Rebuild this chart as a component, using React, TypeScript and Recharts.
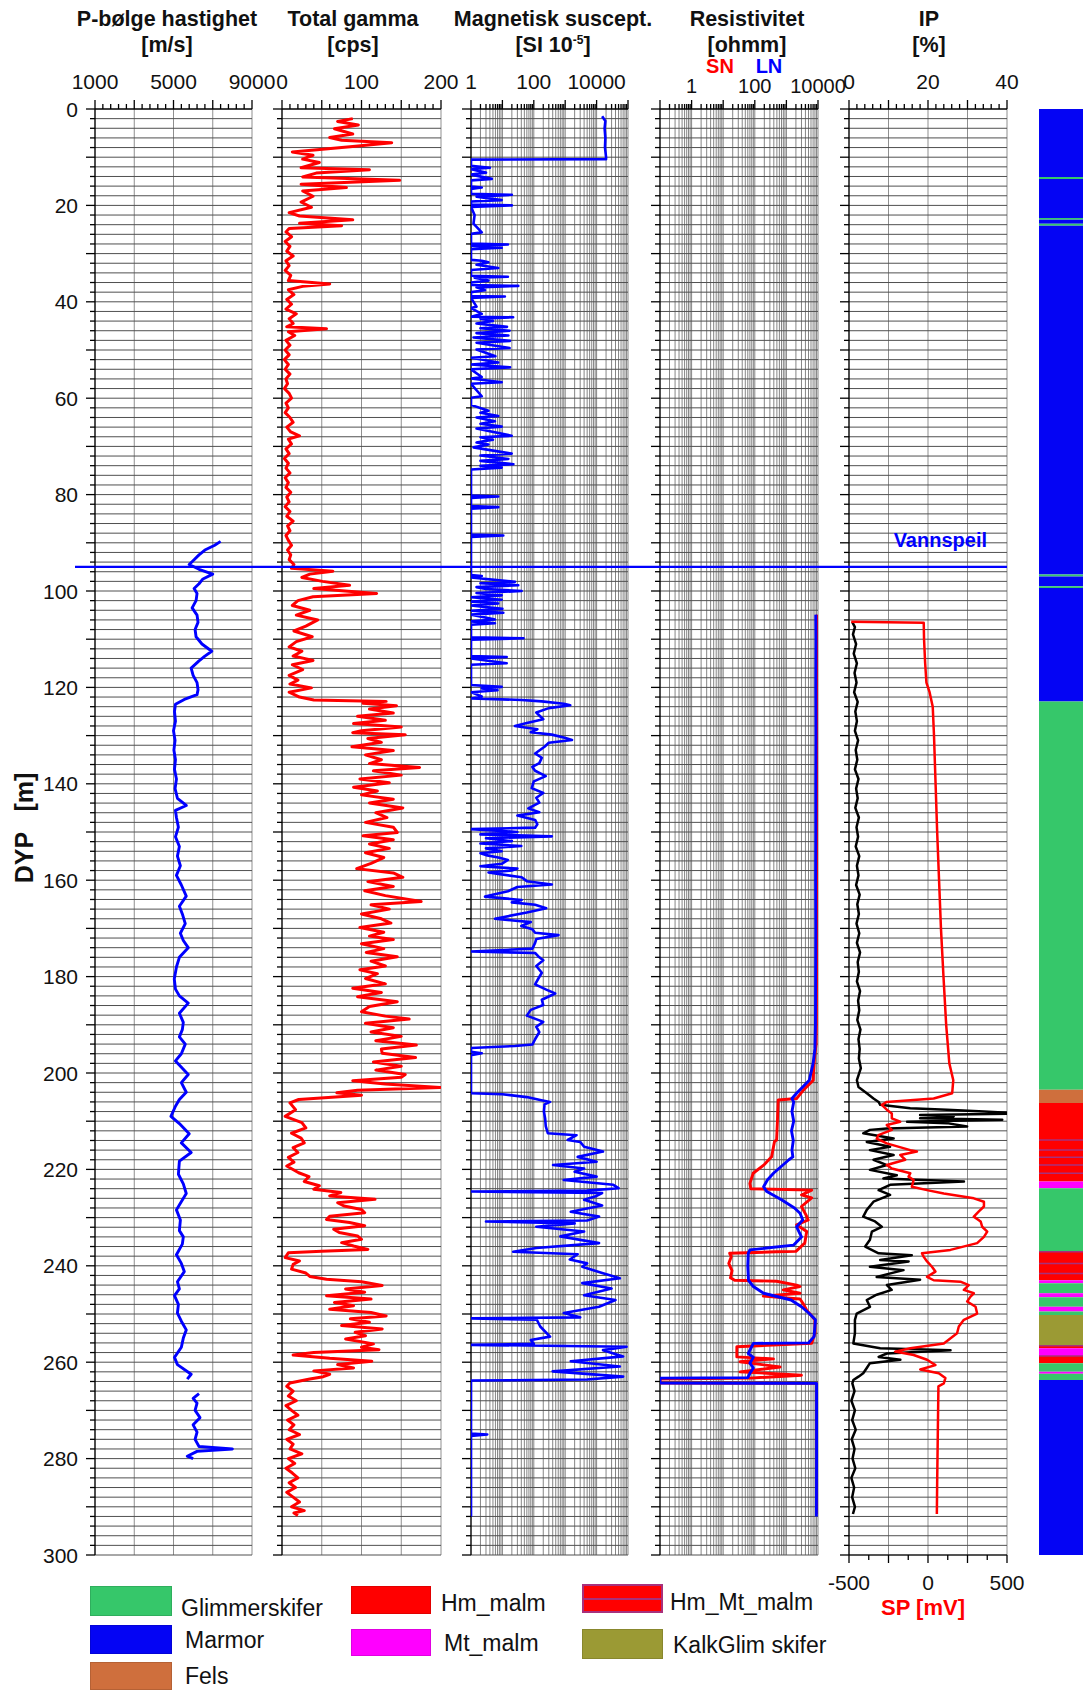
import React from 'react';
import {
  ScatterChart,
  Scatter,
  XAxis,
  YAxis,
  CartesianGrid,
  ReferenceLine,
  ReferenceArea,
} from 'recharts';

const FONT = '"Liberation Sans", Arial, Helvetica, sans-serif';
const PAGE_W = 1083;
const PAGE_H = 1690;
const PLOT_TOP = 109;
const PLOT_BOTTOM = 1555;
const AXIS_W = 62;
const RIGHT_PAD = 40;

// ---- curves: [depth m, value] ----
const pWaveUpper = [
  [89.7, 7400], [90.5, 7100], [91.5, 6600], [92.5, 6300], [93.5, 6050], [94.5, 5800],
  [95.5, 6300], [96.5, 7000], [97.5, 6500], [98.5, 6300], [99.5, 6050], [100.5, 6200],
  [102, 6150], [103.5, 5950], [105, 6200], [106.5, 6250], [108, 6100], [109.5, 6150],
  [111, 6450], [112.5, 6950], [113.5, 6600], [114.5, 6300], [116, 5900], [117.5, 6000],
  [119, 6200], [120.5, 6250], [121.5, 6200], [122.5, 5550], [123.5, 5100], [125, 5050],
  [127, 5100], [129, 5000], [131, 5080], [133, 5020], [135, 5100], [137, 5050],
  [139, 5150], [141, 5080], [143, 5200], [144.5, 5650], [145.5, 5100], [147, 5150],
  [149, 5250], [151, 5100], [153, 5300], [155, 5200], [157, 5350], [159, 5150],
  [161, 5400], [163.3, 5650], [165.4, 5300], [167, 5450], [169, 5600], [171, 5350],
  [172.5, 5500], [174, 5750], [176, 5300], [178, 5150], [180.5, 5040], [182.6, 5100],
  [184, 5300], [185.5, 5750], [187.6, 5300], [189.5, 5500], [191, 5450], [192.5, 5300],
  [194, 5600], [196, 5400], [197.5, 5100], [199, 5450], [200.3, 5750], [202, 5400],
  [204, 5650], [205.5, 5300], [206.9, 5100], [209, 4870], [210.5, 5300], [212.6, 5800],
  [214.5, 5400], [216.5, 5900], [218.3, 5300], [221, 5250], [223, 5500], [225, 5650],
  [227, 5350], [228.4, 5150], [230.5, 5350], [232.7, 5300], [234, 5500], [235.5, 5450],
  [237.7, 5150], [239.5, 5400], [241.2, 5550], [243.3, 5200], [244.8, 5300], [246.2, 5050],
  [248, 5250], [249.8, 5200], [251.5, 5400], [253.3, 5650], [255, 5500], [256.9, 5400],
  [259, 5050], [260.5, 5200], [262.5, 5900], [263.5, 5700],
];
const pWaveLower = [
  [266.5, 6300], [267.5, 6000], [268.5, 6200], [270, 6100], [271.5, 6350], [273, 6000],
  [274.5, 6200], [276, 6100], [277.5, 6300], [278, 8000], [278.5, 6200], [279.5, 5700], [280, 6000],
];

const gamma = [
  [2.0, 89], [2.6, 70], [3.3, 96], [4.1, 66], [5.2, 89], [5.9, 60], [6.5, 75], [7.0, 138],
  [7.8, 89], [8.9, 13], [9.6, 39], [10.4, 26], [11.1, 47], [12.2, 24], [12.6, 110], [13.3, 43],
  [14.1, 26], [14.8, 148], [15.6, 24], [16.3, 81], [17.0, 26], [18.1, 39], [19.3, 24], [20.4, 37],
  [21.5, 9], [22.2, 22], [23.0, 89], [23.7, 22], [24.2, 75], [24.8, 9],
  [25.5, 5], [26.5, 12], [27.5, 4], [28.5, 10], [29.5, 6], [30.5, 14], [31.5, 5], [32.5, 9],
  [33.5, 4], [34.5, 11], [35.6, 8], [36.3, 60], [36.8, 26], [37.5, 8], [38.5, 15], [39.5, 6],
  [40.5, 12], [41.5, 5], [42.5, 18], [43.5, 9], [44.5, 14], [45.2, 6], [45.6, 56], [46.2, 8],
  [47, 16], [48, 5], [49, 10], [50, 4], [51, 9], [52, 3], [53, 8], [54, 4], [55, 10], [56, 5],
  [57, 7], [58, 3], [59, 9], [60, 12], [61, 5], [62, 8], [63, 4], [64, 10], [65, 14], [66, 6],
  [67, 11], [67.8, 22], [68.5, 8], [69.5, 12], [70.5, 5], [71.5, 9], [72.5, 3], [73.5, 8],
  [74.5, 5], [75.5, 10], [76.5, 4], [77.5, 8], [78.5, 5], [79.5, 11], [80.5, 6], [81.5, 9],
  [82.5, 4], [83.5, 10], [84.5, 6], [85.5, 14], [86.5, 7], [87.5, 10], [88.5, 5], [89.5, 8],
  [90.5, 12], [91.5, 7], [92.5, 11], [93.5, 9], [94.5, 15],
  [95.3, 12], [95.9, 64], [96.5, 35], [97.2, 25], [98, 51], [98.8, 85], [99.5, 40], [100.5, 119],
  [101.2, 39], [102, 20], [103, 13], [104, 35], [105, 18], [106, 45], [107.3, 30], [108.3, 15],
  [109.5, 38], [110.5, 18], [111.6, 9], [112.5, 25], [113.5, 14], [114.4, 39], [115.3, 13],
  [116.3, 26], [117.5, 9], [118.5, 20], [119.3, 10], [120.1, 37], [121, 9], [122, 22],
  [122.6, 40], [122.9, 131],
  [123.3, 102], [123.8, 144], [124.5, 110], [125.3, 140], [126, 95], [126.8, 130], [127.5, 90],
  [128.2, 150], [129, 100], [129.4, 89], [129.8, 155], [130.6, 108], [131.4, 125], [132.3, 88],
  [133.1, 140], [134, 105], [135, 125], [135.8, 110], [136.6, 173], [137.3, 115], [138.2, 150],
  [139, 98], [139.8, 135], [140.7, 90], [141.5, 120], [142.3, 100], [143.2, 140], [144, 110],
  [145, 152], [146, 118], [147, 132], [148, 105], [149, 140], [150.1, 145], [150.8, 102],
  [151.6, 140], [152.5, 110], [153.4, 135], [154.3, 105], [155.3, 128], [156.5, 112],
  [157.6, 94], [158.5, 140], [159.4, 152], [160.3, 108], [161.3, 140], [162.2, 104],
  [163.2, 130], [164.4, 175], [165.1, 112], [166, 135], [167, 100], [168, 125], [168.9, 137],
  [169.8, 98], [170.8, 128], [171.6, 110], [172.3, 140], [173.2, 100], [174.2, 128], [175, 106],
  [175.9, 145], [176.8, 112], [177.8, 130], [178.6, 98], [179.4, 120], [180.4, 105],
  [181.5, 130], [182.4, 89], [183.3, 125], [184.2, 95], [185.2, 145], [186.2, 110], [187.3, 100],
  [188.2, 130], [188.8, 160], [189.7, 105], [190.6, 140], [191.5, 112], [192.4, 150],
  [193.3, 118], [194.2, 169], [195, 125], [195.9, 126], [196.8, 168], [197.7, 115], [198.6, 150],
  [199.4, 118], [200.3, 155], [200.9, 150], [201.6, 89], [202.3, 130], [203, 199], [203.6, 95],
  [204.1, 69], [204.6, 100], [205.5, 21],
  [206.2, 10], [207.6, 17], [209, 4], [210.3, 25], [211.4, 30], [212.5, 12], [213.5, 24],
  [214.5, 28], [215.5, 14], [216.5, 20], [217.5, 8], [218.5, 15], [219.3, 6], [220.7, 21],
  [221.5, 34], [222.5, 28], [223.4, 47], [224.1, 40], [224.8, 74], [225.5, 60], [226.2, 117],
  [226.9, 70], [227.6, 78], [228.3, 100], [229, 104], [229.7, 60], [230.4, 56], [231.0, 85],
  [231.7, 104], [232.4, 65], [233.1, 72], [233.8, 95], [234.5, 100], [235.2, 75], [235.9, 90],
  [236.6, 108], [237.0, 50], [237.3, 8], [238.3, 4], [239.0, 22], [239.7, 14], [240.7, 12],
  [241.5, 30], [242.2, 35], [242.8, 56], [243.3, 100], [244.1, 126], [244.8, 80], [245.5, 104],
  [246.2, 56], [246.9, 112], [247.6, 66], [248.3, 90], [249, 60], [249.7, 112], [250.4, 131],
  [251, 86], [251.7, 110], [252.4, 75], [253.1, 126], [253.8, 92], [254.5, 105], [255.2, 80],
  [256.2, 115], [256.9, 100], [257.4, 122], [258, 40], [258.5, 14], [259.2, 60], [259.8, 113],
  [260.5, 70], [261.2, 90], [261.8, 40], [262.5, 60], [263, 52], [263.5, 35], [264.3, 10],
  [265, 6], [266, 14], [267, 8], [268, 18], [269, 5], [270, 12], [271, 20], [272, 7], [273, 15],
  [274, 9], [275, 22], [276, 6], [277, 14], [278, 10], [279, 25], [280, 8], [281, 16], [282, 5],
  [283, 13], [284, 20], [285, 9], [286, 17], [287, 6], [288, 14], [289, 22], [290, 12],
  [290.8, 28], [291.3, 15], [291.8, 20],
];

const magSusc = [
  [1.5, 15000], [2.5, 19000], [4, 18000], [6, 19000], [8, 18500], [10, 20000], [10.4, 20000],
  [10.5, 1], [11.8, 1], [12.2, 4], [12.5, 1], [13.2, 3], [13.6, 1], [14.5, 4.6], [14.8, 1],
  [16.1, 1], [16.3, 2.2], [16.6, 1], [17.6, 1], [17.8, 20], [18.2, 1.5], [18.9, 9.5], [19.2, 1],
  [19.8, 1], [20, 20], [20.3, 1], [22, 1.3], [23.8, 1.2], [25.6, 2.2], [25.9, 1], [27.9, 1],
  [28.1, 15], [28.4, 1], [28.8, 9.5], [29.1, 1], [31.3, 1], [31.5, 2.2], [31.8, 3.6], [32.3, 1.5],
  [33, 7.4], [33.4, 1], [34.6, 1], [34.8, 15], [35, 1.3], [35.6, 3.6], [36, 1], [36.5, 1],
  [36.7, 32], [37, 1.5], [37.6, 2.8], [38, 1], [38.8, 1], [38.9, 12], [39.2, 1], [41, 1.5],
  [41.3, 1], [42.5, 2.2], [43.1, 1], [43.2, 22], [43.5, 2], [44, 5], [44.5, 1.5], [45.2, 14],
  [45.5, 2], [46, 17], [46.5, 1.5], [47, 15.5], [47.4, 1.2], [48.1, 17.5], [48.5, 1.5],
  [49.6, 17], [49.9, 1.5], [51.3, 6], [51.6, 1], [52.6, 7.4], [53, 1], [53.6, 17.5], [54, 1],
  [55.6, 2.2], [55.9, 1], [56.7, 9.5], [57, 1], [59.6, 2.2], [59.9, 1], [61.4, 1], [62.6, 3.6],
  [63, 2], [63.7, 7.4], [64, 1.5], [64.8, 5.8], [65.3, 2], [65.9, 9.5], [66.3, 1.5], [67.8, 19.8],
  [68.1, 2], [68.6, 5], [69.2, 1.5], [69.6, 3.6], [70.2, 1.2], [71.5, 19.8], [71.9, 2],
  [72.6, 15.5], [73, 2], [73.7, 22.5], [74, 2], [74.4, 9.5], [74.8, 1], [77, 1], [80.2, 1],
  [80.4, 7.4], [80.7, 1], [82.4, 1], [82.6, 7.4], [82.9, 1], [88.3, 1], [88.5, 10.7], [88.8, 1],
  [94.8, 1], [96.7, 1], [96.9, 2.2], [97.2, 1], [98.1, 25], [98.4, 2], [98.8, 32], [99.2, 1.5],
  [99.6, 3], [100, 41], [100.4, 1.5], [100.9, 9.5], [101.3, 1], [101.8, 9.5], [102.2, 1],
  [102.6, 7.4], [103, 1], [103.7, 10], [104.1, 1], [104.5, 10.7], [104.9, 1], [105.9, 5.8],
  [106.3, 1], [106.7, 5.8], [107, 1], [109.6, 1], [109.8, 47], [110.1, 1], [113.5, 1],
  [113.7, 13.7], [114, 1], [115, 13.7], [115.3, 1], [119.5, 1], [119.9, 9.5], [120.2, 2.2],
  [120.6, 7], [121, 1], [121.9, 2.2], [122.3, 1],
  [122.6, 41], [122.9, 180], [123.4, 900], [123.7, 1450], [124.3, 300], [125.2, 120],
  [126.6, 200], [127.4, 60], [128, 25], [128.7, 130], [129.3, 80], [129.8, 375], [130.4, 900],
  [130.9, 1650], [131.5, 300], [132.3, 220], [133.7, 110], [134.6, 180], [135.7, 150],
  [136.5, 90], [137.3, 110], [138.4, 240], [139.5, 100], [140.9, 86], [141.9, 200], [142.9, 120],
  [143.9, 150], [145.1, 67], [145.9, 150], [146.6, 30], [147.5, 110], [148.4, 130], [149.1, 110],
  [149.4, 1], [150.0, 30], [150.5, 2], [150.9, 375], [151.3, 3], [151.9, 20], [152.4, 2],
  [152.9, 40], [153.4, 3], [154, 9.5], [154.4, 2], [154.8, 3], [155.3, 7.4], [155.8, 15],
  [156.6, 9.5], [157.1, 2], [157.6, 30], [158, 20], [158.4, 3.6], [159.4, 41], [160.2, 60],
  [160.9, 375], [161.4, 30], [162.3, 15], [163.4, 2.8], [164.1, 41], [164.6, 20], [165.1, 110],
  [165.8, 250], [166.7, 60], [168, 5.8], [168.7, 80], [169.5, 40], [170.2, 90], [170.9, 110],
  [171.4, 610], [172.2, 120], [173, 110], [174.2, 90], [174.8, 1], [175.1, 110], [176, 150],
  [176.6, 200], [177.8, 120], [179.2, 180], [180.4, 140], [181.6, 110], [182.7, 250],
  [183.5, 480], [184.8, 180], [185.9, 200], [186.9, 80], [188.1, 60], [189.4, 200], [190.4, 120],
  [191.5, 150], [193, 110], [194.1, 90], [194.4, 25], [194.8, 1], [195.6, 1], [195.9, 2.2],
  [196.3, 1], [204.2, 1], [204.4, 10], [205, 60], [205.6, 160], [206, 330], [206.5, 220],
  [208, 210], [209.5, 230], [211, 240], [212.5, 280], [212.9, 2300], [213.9, 1200],
  [214.3, 3000], [215.3, 4000], [216.3, 16000], [217.4, 2500], [218.4, 10000], [219.1, 410],
  [219.8, 4000], [220.5, 2000], [221.5, 10000], [222.2, 900], [223.2, 34000], [223.9, 50000],
  [224.4, 5000], [224.6, 1], [224.9, 15000], [225.5, 10000], [226.3, 4000], [227.5, 15000],
  [228.8, 1500], [229.8, 12000], [230.6, 5000], [230.8, 3], [231.2, 2000], [231.9, 120],
  [232.9, 4000], [233.9, 700], [235.3, 12000], [236.3, 120], [237.1, 22], [237.6, 2500],
  [238.7, 1400], [239.5, 5000], [240.2, 3500], [241.5, 15000], [242.6, 55000], [243.6, 3500],
  [244.7, 30000], [246.1, 4000], [247.1, 40000], [248.5, 12000], [249.8, 900], [250.7, 3000],
  [250.9, 1], [251.2, 125], [252.6, 160], [254.7, 330], [255.4, 80], [256.2, 100], [256.4, 1],
  [256.8, 90000], [257.5, 16000], [258.8, 70000], [259.8, 1500], [260.9, 55000], [261.9, 400],
  [263, 70000], [263.6, 5000], [263.8, 1], [274.8, 1], [275, 3.3], [275.3, 1], [292, 1],
];

const resSN = [
  [104.9, 9500], [110, 9300], [120, 9200], [130, 9300], [140, 9200], [150, 9100], [160, 9200],
  [170, 9100], [180, 9000], [190, 8900], [194, 8700], [196, 8000], [198, 7500], [200, 7200],
  [201.5, 7080], [203.5, 3500], [205.3, 2100], [205.6, 550], [210, 520], [213.9, 490],
  [214.2, 420], [217.4, 340], [219, 200], [220.8, 89], [222.9, 70], [224.0, 75], [224.3, 6300],
  [225.3, 3000], [225.9, 6300], [227.7, 3000], [229.5, 4200], [230.5, 4900], [231.5, 2100],
  [232.9, 4400], [235.3, 3800], [237.0, 2000], [237.1, 490], [237.4, 16], [238.1, 18],
  [239.5, 15], [241, 19], [242.5, 17], [243, 23], [243.2, 490], [244, 2100], [244.3, 2700],
  [245, 800], [245.7, 2700], [246.3, 186], [246.9, 2700], [248, 3500], [249.2, 4400],
  [251.2, 8000], [254, 8000], [256.1, 6300], [256.8, 27], [258.9, 27], [259.3, 390],
  [259.9, 34], [261, 630], [262, 34], [262.7, 3000], [263.3, 70], [263.5, 0.1], [264.3, 0.1],
  [264.4, 9100], [280, 9000], [291.5, 9000],
];
const resLN = [
  [104.9, 8500], [110, 8600], [120, 8500], [130, 8600], [140, 8500], [150, 8500], [160, 8400],
  [170, 8500], [180, 8400], [190, 8300], [195, 8000], [198, 7000], [201.5, 5300], [204.2, 2100],
  [205.3, 1500], [206, 1700], [208, 1500], [210, 1700], [212, 1450], [214, 1650], [216, 1500],
  [217.4, 1600], [218, 1200], [220.8, 390], [222.2, 250], [223.6, 190], [224.6, 240],
  [226.3, 700], [228, 1800], [229.1, 2700], [230.5, 3300], [231.9, 2100], [234, 3000],
  [235.7, 1700], [236.7, 70], [237.4, 62], [240, 60], [243, 63], [244.3, 90], [245.7, 190],
  [247.1, 1400], [248.5, 3000], [249.9, 5300], [251.2, 8300], [254.7, 7500], [256, 5000],
  [256.1, 90], [258.2, 62], [259, 90], [260.2, 70], [261.2, 90], [262.3, 70], [263.2, 60],
  [263.3, 0.1], [264.3, 0.1], [264.4, 9000], [280, 9000], [292, 8900],
];

const ipCurve = [
  [106.4, 0.8], [107.5, 1.5], [109, 1.0], [111, 1.8], [113, 1.2], [115, 2.0], [117, 1.4],
  [119, 1.9], [121, 1.3], [123, 2.2], [125, 1.6], [127, 2.0], [129, 1.5], [131, 2.3], [133, 1.7],
  [135, 2.1], [137, 1.5], [139, 2.4], [141, 1.8], [143, 2.2], [145, 1.6], [147, 2.5], [149, 1.9],
  [151, 2.3], [153, 1.7], [155, 2.6], [157, 2.0], [159, 2.4], [161, 1.8], [163, 2.7], [165, 2.1],
  [167, 2.5], [169, 1.9], [171, 2.6], [173, 2.0], [175, 2.8], [177, 2.2], [179, 2.5], [181, 2.0],
  [183, 2.8], [185, 2.3], [187, 2.6], [189, 2.1], [191, 2.9], [193, 2.4], [195, 2.7], [197, 2.5],
  [199, 3.0], [200.5, 2.4], [201.5, 2.0], [202.9, 2.4], [204.2, 4.5], [205.3, 6.2], [206, 7.5],
  [206.6, 7.9], [207.3, 15.5], [207.6, 24.8], [208, 34.2], [208.4, 43], [208.7, 18], [209, 26.5],
  [209.4, 18], [209.7, 38.8], [210.1, 14.7], [210.4, 24.8], [211.1, 29.9], [211.5, 9.6],
  [211.8, 5.3], [212.5, 3.6], [213.6, 11.3], [214.3, 4.5], [215.3, 10.4], [216, 5.3],
  [217, 11.3], [218, 6.2], [219.1, 9.6], [220.1, 5.3], [221.2, 12.1], [221.9, 8.7],
  [222.5, 29.1], [223.2, 10.4], [224.3, 7.5], [225.3, 10.4], [226.7, 6.2], [228.4, 4.5],
  [229.8, 3.6], [230.8, 6.6], [231.9, 8.3], [232.9, 5.8], [234.6, 5.3], [236, 4.1], [237.4, 7.5],
  [237.8, 15.9], [238.8, 7.9], [239.1, 15.1], [240.2, 5.3], [240.9, 13.8], [242.3, 7.0],
  [242.9, 18], [244, 9.6], [245, 10.8], [246, 7.0], [247.1, 4.5], [248.5, 5.3], [249.9, 1.95],
  [251.2, 1.5], [254, 1.5], [256.1, 1.1], [257.1, 7.9], [257.5, 25.7], [258.2, 9.6],
  [258.9, 7.5], [259.5, 13], [260.2, 5.3], [261.2, 4.5], [262.3, 3.6], [263, 2.4], [263.7, 1.1],
  [264.4, 0.85], [266, 1.4], [268, 0.6], [270, 1.5], [272, 0.8], [274, 1.7], [276, 0.7],
  [278, 1.4], [280, 0.9], [282, 1.6], [284, 0.6], [286, 1.3], [288, 0.8], [290, 1.5], [291.5, 1.0],
];
const spCurve = [
  [106.4, -486], [106.6, -27], [110, -25], [115, -18], [119, -10], [121, 10], [124, 30],
  [130, 38], [140, 48], [150, 58], [160, 70], [170, 82], [180, 98], [190, 115], [198, 135],
  [201.5, 160], [204.2, 153], [205.3, 36], [206, -261], [206.6, -292], [207.6, -261],
  [208.4, -229], [209.4, -229], [210.1, -176], [210.8, -261], [211.8, -229], [212.9, -314],
  [213.6, -324], [214.6, -261], [216, -112], [216.3, -70], [217, -176], [218, -144],
  [219.1, -261], [219.8, -229], [220.8, -112], [221.5, -123], [222.2, -91], [223.6, -102],
  [224.3, -6], [225, 100], [226, 290], [226.7, 354], [227.7, 354], [228.7, 322], [229.8, 290],
  [230.8, 333], [231.9, 343], [232.9, 375], [234, 354], [235.3, 311], [236.7, 142], [237.4, -38],
  [238.1, -28], [239.1, -6], [240.2, 25], [241.2, 47], [242.3, -6], [243, 36], [243.3, 205],
  [244, 258], [245, 227], [245.7, 290], [246.4, 269], [247.4, 248], [248.5, 301], [249.9, 311],
  [251.2, 227], [252.6, 195], [254, 184], [256.1, 100], [257.1, -112], [257.8, -208],
  [258.5, -91], [259.5, -6], [260.6, 47], [261.5, -49], [262.3, 68], [263.3, 110], [264.4, 100],
  [265, 66], [275, 62], [285, 58], [291.5, 56],
];

const waterTable = 95;

// ---- lithology column: [top, bottom, unit] ----
const lithology = [
  [0, 14.1, 'Marmor'], [14.1, 14.5, 'Glimmerskifer'], [14.5, 22.6, 'Marmor'],
  [22.6, 23.0, 'Glimmerskifer'], [23.0, 23.8, 'Marmor'], [23.8, 24.2, 'Glimmerskifer'],
  [24.2, 96.6, 'Marmor'], [96.6, 97.0, 'Glimmerskifer'], [97.0, 99.0, 'Marmor'],
  [99.0, 99.4, 'Glimmerskifer'], [99.4, 122.9, 'Marmor'], [122.9, 203.5, 'Glimmerskifer'],
  [203.5, 206.2, 'Fels'], [206.2, 213.9, 'Hm_malm'], [213.9, 216.0, 'Hm_Mt_malm'],
  [216.0, 217.5, 'Hm_Mt_malm'], [217.5, 219.1, 'Hm_Mt_malm'], [219.1, 220.8, 'Hm_Mt_malm'],
  [220.8, 222.5, 'Hm_Mt_malm'], [222.5, 223.9, 'Mt_malm'], [223.9, 237.1, 'Glimmerskifer'],
  [237.1, 239.5, 'Hm_Mt_malm'], [239.5, 241.6, 'Hm_Mt_malm'], [241.6, 243.0, 'Hm_Mt_malm'],
  [243.0, 243.6, 'Mt_malm'], [243.6, 245.7, 'Glimmerskifer'], [245.7, 246.5, 'Mt_malm'],
  [246.5, 248.5, 'Glimmerskifer'], [248.5, 249.5, 'Mt_malm'], [249.5, 250.2, 'Glimmerskifer'],
  [250.2, 256.6, 'KalkGlim skifer'], [256.6, 257.1, 'Hm_Mt_malm'], [257.1, 258.7, 'Mt_malm'],
  [258.7, 260.2, 'Hm_Mt_malm'], [260.2, 262.0, 'Glimmerskifer'], [262.0, 262.4, 'Mt_malm'],
  [262.4, 263.7, 'Glimmerskifer'], [263.7, 300, 'Marmor'],
];

const unitColors = {
  Glimmerskifer: '#36c76a',
  Marmor: '#0404f4',
  Fels: '#cf6f3d',
  Hm_malm: '#ff0000',
  Mt_malm: '#ff00ff',
  Hm_Mt_malm: '#ff0000',
  'KalkGlim skifer': '#9b9a34',
};
const stripeColor = '#a8307c';

const legendUnits = ['Glimmerskifer', 'Marmor', 'Fels', 'Hm_malm', 'Mt_malm', 'Hm_Mt_malm', 'KalkGlim skifer'];

// ---- axis ticks / labels ----
const pWaveLabels = [1000, 5000, 9000];
const gammaLabels = [0, 100, 200];
const magLabels = [1, 100, 10000];
const resLabels = [1, 100, 10000];
const ipLabels = [0, 20, 40];
const spLabels = [-500, 0, 500];

const linTicks = (a, b, step) => {
  const out = [];
  for (let v = a; v <= b + 1e-9; v += step) out.push(Math.round(v * 1000) / 1000);
  return out;
};
const logTicks = (e0, e1) => {
  const out = [];
  for (let e = e0; e < e1; e++) for (let n = 1; n < 10; n++) out.push(Number((n * Math.pow(10, e)).toPrecision(6)));
  out.push(Math.pow(10, e1));
  return out;
};
const isDecade = (v) => Math.abs(Math.log10(v) - Math.round(Math.log10(v))) < 1e-9;
const sameVal = (a, b) => Math.abs(a - b) <= 1e-6 * Math.max(1, Math.abs(a));

const depthTicks = linTicks(0, 300, 2);
const depthGrid = linTicks(2, 300, 2);

const toPts = (rows) => rows.map(([d, v]) => ({ d, v }));
const noShape = () => <g />;

const pWaveAxis = { id: 'pw', domain: [1000, 9000], scale: 'linear', ticks: linTicks(1000, 9000, 400), isMajor: (v) => (v - 1000) % 2000 === 0, labels: pWaveLabels, labelY: 89, fontSize: 21 };
const gammaAxis = { id: 'gm', domain: [0, 200], scale: 'linear', ticks: linTicks(0, 200, 10), isMajor: (v) => v % 50 === 0, labels: gammaLabels, labelY: 89, fontSize: 21 };
const magAxis = { id: 'ms', domain: [1, 100000], scale: 'log', ticks: logTicks(0, 5), isMajor: isDecade, labels: magLabels, labelY: 89, fontSize: 21 };
const resAxis = { id: 'rs', domain: [0.1, 10000], scale: 'log', ticks: logTicks(-1, 4), isMajor: isDecade, labels: resLabels, labelY: 93, fontSize: 20 };
const ipAxis = { id: 'ip', domain: [0, 40], scale: 'linear', ticks: linTicks(0, 40, 2), isMajor: (v) => v % 10 === 0, labels: ipLabels, labelY: 89, fontSize: 21 };
const spAxis = { id: 'sp', domain: [-500, 500], scale: 'linear', ticks: linTicks(-500, 500, 125), isMajor: (v) => v % 250 === 0, labels: spLabels, labelY: 1590, fontSize: 21 };

const textStyle = { fontFamily: FONT, fill: '#111' };

function topTick(p, ax) {
  const v = p.payload.value;
  const len = ax.isMajor(v) ? 9 : 5;
  const lab = ax.labels.some((l) => sameVal(l, v));
  return (
    <g>
      <line x1={p.x} x2={p.x} y1={PLOT_TOP - len} y2={PLOT_TOP} stroke="#000" strokeWidth={1.3} />
      {lab && (
        <text x={p.x} y={ax.labelY} textAnchor="middle" fontSize={ax.fontSize} {...textStyle}>
          {String(v)}
        </text>
      )}
    </g>
  );
}

function bottomTick(p, ax) {
  const v = p.payload.value;
  const len = ax.isMajor(v) ? 8 : 5;
  const lab = ax.labels.some((l) => sameVal(l, v));
  return (
    <g>
      <line x1={p.x} x2={p.x} y1={PLOT_BOTTOM} y2={PLOT_BOTTOM + len} stroke="#000" strokeWidth={1.3} />
      {lab && (
        <text x={p.x} y={ax.labelY} textAnchor="middle" fontSize={ax.fontSize} {...textStyle}>
          {String(v)}
        </text>
      )}
    </g>
  );
}

function leftTick(p, withLabels) {
  const v = p.payload.value;
  const len = v % 10 === 0 ? 9 : 5;
  return (
    <g>
      <line x1={AXIS_W - len} x2={AXIS_W} y1={p.y} y2={p.y} stroke="#000" strokeWidth={1.3} />
      {withLabels && v % 20 === 0 && (
        <text x={AXIS_W - 17} y={p.y} dy="0.36em" textAnchor="end" fontSize={21} {...textStyle}>
          {String(v)}
        </text>
      )}
    </g>
  );
}

function Panel({ left, width, axis, bottomAxis, grid, gridColor, depthLabels, children }) {
  const bottomH = bottomAxis ? 60 : 0;
  return (
    <div style={{ position: 'absolute', left: left - AXIS_W, top: 0 }}>
      <ScatterChart
        width={AXIS_W + width + RIGHT_PAD}
        height={PAGE_H}
        margin={{ top: 0, right: RIGHT_PAD, bottom: PAGE_H - PLOT_BOTTOM - bottomH, left: 0 }}
      >
        <XAxis
          xAxisId={axis.id}
          orientation="top"
          type="number"
          dataKey="v"
          scale={axis.scale}
          domain={axis.domain}
          allowDataOverflow
          ticks={axis.ticks}
          interval={0}
          height={PLOT_TOP}
          tickLine={false}
          tickSize={0}
          tickMargin={0}
          tick={(p) => topTick(p, axis)}
          axisLine={{ stroke: '#000', strokeWidth: 1.4 }}
        />
        {bottomAxis && (
          <XAxis
            xAxisId={bottomAxis.id}
            orientation="bottom"
            type="number"
            dataKey="v"
            domain={bottomAxis.domain}
            allowDataOverflow
            ticks={bottomAxis.ticks}
            interval={0}
            height={bottomH}
            tickLine={false}
            tickSize={0}
            tickMargin={0}
            tick={(p) => bottomTick(p, bottomAxis)}
            axisLine={{ stroke: '#000', strokeWidth: 1.2 }}
          />
        )}
        <YAxis
          type="number"
          dataKey="d"
          domain={[0, 300]}
          reversed
          allowDataOverflow
          ticks={depthTicks}
          interval={0}
          width={AXIS_W}
          tickLine={false}
          tickSize={0}
          tickMargin={0}
          tick={(p) => leftTick(p, depthLabels)}
          axisLine={{ stroke: '#000', strokeWidth: 1.4 }}
        />
        <CartesianGrid xAxisId={axis.id} horizontal={false} verticalValues={grid} stroke={gridColor || '#8f8f8f'} strokeWidth={1} />
        <CartesianGrid xAxisId={axis.id} vertical={false} horizontalValues={depthGrid} stroke="#505050" strokeWidth={1} />
        {children}
      </ScatterChart>
    </div>
  );
}

const curve = (id, data, color, w = 2.9) => (
  <Scatter
    xAxisId={id}
    data={toPts(data)}
    fill={color}
    line={{ stroke: color, strokeWidth: w, strokeLinejoin: 'round' }}
    lineJointType="linear"
    shape={noShape}
    isAnimationActive={false}
  />
);

const titles = [
  { cx: 167, l1: 'P-bølge hastighet', l2: '[m/s]' },
  { cx: 353, l1: 'Total gamma', l2: '[cps]' },
  { cx: 553, l1: 'Magnetisk suscept.', l2: 'SI' },
  { cx: 747, l1: 'Resistivitet', l2: '[ohmm]' },
  { cx: 929, l1: 'IP', l2: '[%]' },
];

const legendSlots = [
  { x: 90, y: 1586, w: 82, h: 30, tx: 181, ty: 1608 },
  { x: 90, y: 1625, w: 82, h: 29, tx: 185, ty: 1640 },
  { x: 90, y: 1662, w: 82, h: 28, tx: 185, ty: 1676 },
  { x: 351, y: 1586, w: 80, h: 28, tx: 441, ty: 1603 },
  { x: 351, y: 1629, w: 80, h: 27, tx: 444, ty: 1643 },
  { x: 582, y: 1584, w: 81, h: 29, tx: 670, ty: 1602 },
  { x: 582, y: 1629, w: 81, h: 30, tx: 673, ty: 1645 },
];

export default function App() {
  const bold = { fontFamily: FONT, fontWeight: 700, fontSize: 21.5, color: '#111', whiteSpace: 'nowrap' as const };
  return (
    <div style={{ position: 'absolute', left: 0, top: 0, width: PAGE_W, height: PAGE_H, background: '#fff', overflow: 'hidden' }}>
      {titles.map((t) => (
        <React.Fragment key={t.l1}>
          <div style={{ ...bold, position: 'absolute', left: t.cx - 150, width: 300, textAlign: 'center', top: 7, lineHeight: '24px' }}>{t.l1}</div>
          <div style={{ ...bold, position: 'absolute', left: t.cx - 150, width: 300, textAlign: 'center', top: 33, lineHeight: '24px' }}>
            {t.l2 === 'SI' ? (
              <span>
                [SI 10<sup style={{ fontSize: 12, verticalAlign: 'top', lineHeight: '14px' }}>-5</sup>]
              </span>
            ) : (
              t.l2
            )}
          </div>
        </React.Fragment>
      ))}
      <div style={{ ...bold, fontSize: 20, position: 'absolute', left: 700, width: 40, textAlign: 'center', top: 57, lineHeight: '19px', color: '#ff0000' }}>SN</div>
      <div style={{ ...bold, fontSize: 20, position: 'absolute', left: 749, width: 40, textAlign: 'center', top: 57, lineHeight: '19px', color: '#0000ff' }}>LN</div>

      <div
        style={{
          ...bold,
          fontSize: 25,
          position: 'absolute',
          left: 24 - 80,
          top: 828 - 15,
          width: 160,
          lineHeight: '30px',
          textAlign: 'center',
          transform: 'rotate(-90deg)',
          whiteSpace: 'pre',
        }}
      >
        {'DYP   [m]'}
      </div>

      <Panel left={95} width={157} axis={pWaveAxis} grid={[3000, 5000, 7000, 9000]} depthLabels>
        {curve('pw', pWaveUpper, '#0000ff')}
        {curve('pw', pWaveLower, '#0000ff')}
      </Panel>
      <Panel left={282} width={159} axis={gammaAxis} grid={[50, 100, 150, 200]}>
        {curve('gm', gamma, '#ff0000', 3)}
      </Panel>
      <Panel left={471} width={157} axis={magAxis} grid={logTicks(0, 5).slice(1)} gridColor="#858585">
        {curve('ms', magSusc, '#0000ff', 2.6)}
      </Panel>
      <Panel left={660} width={158} axis={resAxis} grid={logTicks(-1, 4).slice(1)} gridColor="#858585">
        {curve('rs', resSN, '#ff0000')}
        {curve('rs', resLN, '#0000ff')}
      </Panel>
      <Panel left={849} width={158} axis={ipAxis} bottomAxis={spAxis} grid={[10, 20, 30, 40]}>
        {curve('ip', ipCurve, '#000000', 2.5)}
        {curve('sp', spCurve, '#ff0000', 2.5)}
      </Panel>

      {/* water table across all tracks */}
      <div style={{ position: 'absolute', left: 75, top: 0 }}>
        <ScatterChart width={932} height={PAGE_H} margin={{ top: PLOT_TOP, right: 0, bottom: PAGE_H - PLOT_BOTTOM, left: 0 }}>
          <XAxis type="number" dataKey="v" domain={[0, 1]} hide />
          <YAxis type="number" dataKey="d" domain={[0, 300]} reversed hide />
          <Scatter data={[{ v: 0.5, d: waterTable }]} shape={noShape} isAnimationActive={false} />
          <ReferenceLine
            y={waterTable}
            stroke="#0000ff"
            strokeWidth={2.4}
            label={{ value: 'Vannspeil', position: 'insideBottomRight', offset: 20, fill: '#0000ff', fontSize: 20, fontWeight: 700, fontFamily: FONT }}
          />
        </ScatterChart>
      </div>

      {/* lithology column */}
      <div style={{ position: 'absolute', left: 1039, top: 0 }}>
        <ScatterChart width={44} height={PAGE_H} margin={{ top: PLOT_TOP, right: 0, bottom: PAGE_H - PLOT_BOTTOM, left: 0 }}>
          <XAxis type="number" dataKey="v" domain={[0, 1]} hide />
          <YAxis type="number" dataKey="d" domain={[0, 300]} reversed hide />
          <Scatter data={[{ v: 0.5, d: 0 }]} shape={noShape} isAnimationActive={false} />
          {lithology.map(([top, bottom, unit], i) => (
            <ReferenceArea key={'a' + i} y1={top} y2={bottom} fill={unitColors[unit]} fillOpacity={1} stroke="none" />
          ))}
          {lithology
            .filter(([, , unit]) => unit === 'Hm_Mt_malm')
            .map(([top], i) => (
              <ReferenceLine key={'s' + i} y={top} stroke={stripeColor} strokeWidth={1.5} />
            ))}
        </ScatterChart>
      </div>

      <div style={{ ...bold, position: 'absolute', left: 923 - 80, width: 160, textAlign: 'center', top: 1595, lineHeight: '26px', color: '#ff0000', fontSize: 22 }}>
        SP [mV]
      </div>

      {legendUnits.map((u, i) => {
        const s = legendSlots[i];
        const striped = u === 'Hm_Mt_malm';
        return (
          <React.Fragment key={u}>
            <div
              style={{
                position: 'absolute',
                left: s.x,
                top: s.y,
                width: s.w,
                height: s.h,
                background: unitColors[u],
                boxSizing: 'border-box',
                border: striped ? `2px solid ${stripeColor}` : '1px solid rgba(0,0,0,0.12)',
              }}
            >
              {striped && <div style={{ position: 'absolute', left: 0, right: 0, top: '50%', height: 2, marginTop: -1, background: stripeColor }} />}
            </div>
            <div style={{ position: 'absolute', left: s.tx, top: s.ty - 14, lineHeight: '28px', fontFamily: FONT, fontSize: 23, color: '#111', whiteSpace: 'nowrap' }}>
              {u}
            </div>
          </React.Fragment>
        );
      })}
    </div>
  );
}
